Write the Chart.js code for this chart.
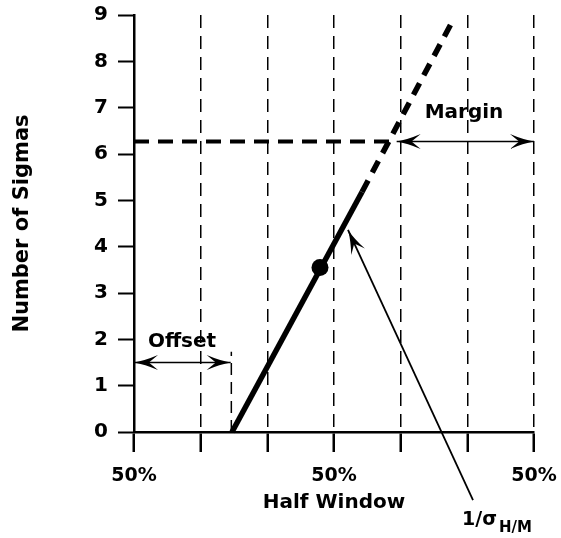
<!DOCTYPE html>
<html>
<head>
<meta charset="utf-8">
<script src="https://cdn.jsdelivr.net/npm/chart.js@4.4.1/dist/chart.umd.min.js"></script>
<style>
  html, body { margin: 0; padding: 0; background: #fff; }
  #chart { display: block; }
</style>
</head>
<body>
<canvas id="chart" width="561" height="538"></canvas>
<script>
// axis ticks
const xTicks = [0, 1, 2, 3, 4, 5, 6];
const xTickLabels = ["50%", "", "", "50%", "", "", "50%"];
const yTicks = [0, 1, 2, 3, 4, 5, 6, 7, 8, 9];

// 1/sigma line, solid part then dashed extrapolation
const solidLine = [{ x: 1.47, y: 0 }, { x: 3.42, y: 5.18 }];
const dashedLine = [{ x: 3.42, y: 5.18 }, { x: 4.80, y: 8.93 }];
const operatingPoint = [{ x: 2.79, y: 3.55 }];

// required sigma level and the margin / offset markers
const requiredSigmas = [{ x: 0, y: 6.27 }, { x: 3.85, y: 6.27 }];
const marginArrow = [{ x: 3.94, y: 6.27 }, { x: 6, y: 6.27 }];
const offsetMarker = [{ x: 1.46, y: 0 }, { x: 1.46, y: 1.73 }];
const offsetArrow = [{ x: 0, y: 1.5 }, { x: 1.45, y: 1.5 }];
const pointerArrow = [{ x: 5.085, y: -1.47 }, { x: 3.21, y: 4.36 }];

// text notes, in data units
const noteLabels = [
  { text: "Margin", x: 4.95, y: 6.78 },
  { text: "Offset", x: 0.72, y: 1.83 },
];
const sigmaNote = { text: "1/\u03c3", sub: "H/M", x: 4.92, y: -2.0 };

Chart.defaults.font.family = "'DejaVu Sans', sans-serif";
Chart.defaults.color = "#000";

const arrowHeads = {
  id: "arrowHeads",
  afterDatasetsDraw(chart) {
    const ctx = chart.ctx;
    chart.data.datasets.forEach((ds, i) => {
      if (!ds.arrowAt) return;
      const pts = chart.getDatasetMeta(i).data;
      ds.arrowAt.forEach((end) => {
        const tip = end === "start" ? pts[0] : pts[pts.length - 1];
        const from = end === "start" ? pts[1] : pts[pts.length - 2];
        const ang = Math.atan2(tip.y - from.y, tip.x - from.x);
        const len = 24, half = 7.5;
        ctx.save();
        ctx.translate(tip.x, tip.y);
        ctx.rotate(ang);
        ctx.beginPath();
        ctx.moveTo(0, 0);
        ctx.quadraticCurveTo(-len * 0.45, -half * 0.25, -len, -half);
        ctx.lineTo(-len * 0.62, 0);
        ctx.lineTo(-len, half);
        ctx.quadraticCurveTo(-len * 0.45, half * 0.25, 0, 0);
        ctx.closePath();
        ctx.fillStyle = "#000";
        ctx.fill();
        ctx.restore();
      });
    });
  },
};

const notes = {
  id: "notes",
  afterDraw(chart) {
    const { ctx, scales: { x, y } } = chart;
    ctx.save();
    ctx.fillStyle = "#000";
    ctx.textAlign = "center";
    ctx.textBaseline = "alphabetic";
    ctx.font = "bold 20px 'DejaVu Sans'";
    noteLabels.forEach((n) => ctx.fillText(n.text, x.getPixelForValue(n.x), y.getPixelForValue(n.y)));
    const sx = x.getPixelForValue(sigmaNote.x);
    const sy = y.getPixelForValue(sigmaNote.y);
    ctx.textAlign = "left";
    ctx.font = "bold 19px 'DejaVu Sans'";
    ctx.fillText(sigmaNote.text, sx, sy);
    const w = ctx.measureText(sigmaNote.text).width;
    ctx.font = "bold 15px 'DejaVu Sans'";
    ctx.fillText(sigmaNote.sub, sx + w + 2, sy + 7);
    ctx.restore();
  },
};

const line = (data, width, dash, extra) => Object.assign({
  data, showLine: true, borderColor: "#000", borderWidth: width,
  borderDash: dash, pointRadius: 0, clip: false, borderCapStyle: "butt",
}, extra || {});

new Chart(document.getElementById("chart"), {
  type: "scatter",
  data: {
    datasets: [
      line(solidLine, 5.5, []),
      line(dashedLine, 5.5, [13, 9]),
      line(requiredSigmas, 4, [15, 9]),
      line(offsetMarker, 1.5, [12, 7]),
      line(offsetArrow, 1.6, [], { arrowAt: ["start", "end"] }),
      line(marginArrow, 1.6, [], { arrowAt: ["start", "end"] }),
      line(pointerArrow, 1.8, [], { arrowAt: ["end"] }),
      { data: operatingPoint, pointRadius: 8.5, pointBackgroundColor: "#000", pointBorderWidth: 0, clip: false },
    ],
  },
  options: {
    responsive: false,
    animation: false,
    layout: { padding: { left: 0, top: 15, right: 27, bottom: 0 } },
    plugins: { legend: { display: false }, tooltip: { enabled: false } },
    scales: {
      x: {
        type: "linear", min: 0, max: 6,
        afterBuildTicks: (s) => { s.ticks = xTicks.map((v) => ({ value: v })); },
        afterFit: (s) => { s.height = 106; s.paddingLeft = 0; s.paddingRight = 0; },
        ticks: { callback: (v, i) => xTickLabels[i], font: { size: 19, weight: "bold" }, padding: 13, maxRotation: 0, autoSkip: false },
        grid: {
          color: (c) => (c.tick && c.tick.value === 0 ? "rgba(0,0,0,0)" : "#000"),
          lineWidth: 1.5, tickLength: 20, tickWidth: 2.5, tickColor: "#000", tickBorderDash: [],
        },
        border: { display: true, color: "#000", width: 2.5, dash: [13, 8] },
        title: { display: true, text: "Half Window", font: { size: 20, weight: "bold" }, padding: { top: 0, bottom: 23 } },
      },
      y: {
        type: "linear", min: 0, max: 9,
        afterBuildTicks: (s) => { s.ticks = yTicks.map((v) => ({ value: v })); },
        afterFit: (s) => { s.width = 134; s.paddingTop = 0; s.paddingBottom = 0; },
        ticks: { font: { size: 20, weight: "bold" }, padding: 10 },
        grid: { drawOnChartArea: false, tickLength: 16, tickWidth: 2, tickColor: "#000", color: "#000" },
        border: { display: true, color: "#000", width: 2.5 },
        title: { display: true, text: "Number of Sigmas", font: { size: 21, weight: "bold" }, padding: { top: 10, bottom: 0 } },
      },
    },
  },
  plugins: [arrowHeads, notes],
});
</script>
</body>
</html>
